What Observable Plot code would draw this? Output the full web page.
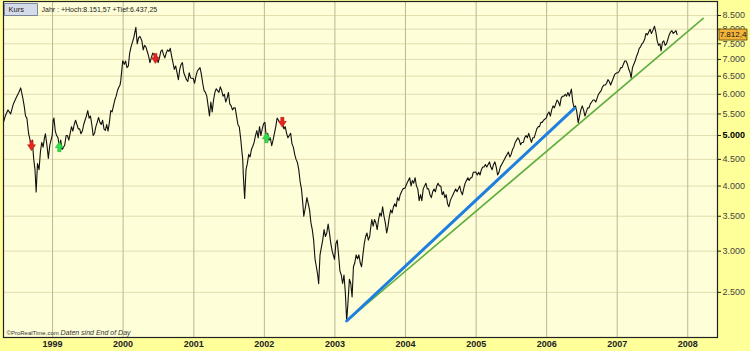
<!DOCTYPE html>
<html><head><meta charset="utf-8">
<script src="https://cdn.jsdelivr.net/npm/d3@7"></script>
<script src="https://cdn.jsdelivr.net/npm/@observablehq/plot@0.6"></script>
<style>
html,body{margin:0;padding:0;background:#ffff99;}
#chart svg{display:block;}
</style></head><body><div id="chart"></div>
<script>
// ---- data ----
const p1998 = [["1998-04-22",5300],["1998-05-01",5450],["1998-05-15",5600],["1998-05-29",5500],["1998-06-12",5750],["1998-06-26",5900],["1998-07-10",6050],["1998-07-20",6171],["1998-07-31",5900],["1998-08-07",5700],["1998-08-14",5450],["1998-08-21",5400],["1998-08-30",5040],["1998-09-04",4950],["1998-09-11",4800],["1998-09-14",4780],["1998-09-18",4900],["1998-09-25",4520],["1998-10-02",4300],["1998-10-08",3896],["1998-10-15",4420],["1998-10-23",4300],["1998-10-30",4650],["1998-11-06",4850],["1998-11-13",4750],["1998-11-20",4950],["1998-11-25",5040],["1998-12-04",4750],["1998-12-10",4520],["1998-12-18",4800],["1998-12-30",5002]];
const p1999 = [["1999-01-04",5350],["1999-01-08",5400],["1999-01-15",5100],["1999-01-22",5000],["1999-01-29",4950],["1999-02-05",4760],["1999-02-12",4900],["1999-02-19",4700],["1999-02-26",4740],["1999-03-05",4800],["1999-03-12",5000],["1999-03-19",5000],["1999-03-26",4900],["1999-04-02",5050],["1999-04-09",5200],["1999-04-16",5100],["1999-04-23",5250],["1999-04-30",5350],["1999-05-07",5250],["1999-05-14",5150],["1999-05-21",5150],["1999-05-28",5040],["1999-06-04",5100],["1999-06-11",5250],["1999-06-18",5350],["1999-06-25",5450],["1999-07-02",5585],["1999-07-09",5400],["1999-07-16",5450],["1999-07-23",5250],["1999-07-30",5000],["1999-08-06",5050],["1999-08-13",5200],["1999-08-20",5300],["1999-08-27",5416],["1999-09-03",5300],["1999-09-10",5250],["1999-09-17",5350],["1999-09-24",5150],["1999-10-01",5113],["1999-10-08",5250],["1999-10-15",5100],["1999-10-22",5300],["1999-10-29",5585],["1999-11-05",5550],["1999-11-12",5700],["1999-11-19",5850],["1999-11-26",5950],["1999-12-03",6100],["1999-12-09",6184],["1999-12-16",6250],["1999-12-20",6380],["1999-12-30",6958]];
const p2000 = [["2000-01-07",6850],["2000-01-14",6950],["2000-01-21",6750],["2000-01-28",6800],["2000-02-04",7200],["2000-02-11",7400],["2000-02-18",7550],["2000-02-25",7700],["2000-03-07",8064],["2000-03-14",7500],["2000-03-21",7700],["2000-03-28",7750],["2000-04-07",7600],["2000-04-14",7300],["2000-04-21",7450],["2000-04-28",7400],["2000-05-05",7250],["2000-05-12",7100],["2000-05-19",6900],["2000-05-26",7050],["2000-06-02",7200],["2000-06-09",7150],["2000-06-16",7030],["2000-06-23",7100],["2000-06-30",6900],["2000-07-07",7050],["2000-07-14",7250],["2000-07-21",7300],["2000-07-28",7150],["2000-08-04",7050],["2000-08-11",7200],["2000-08-18",7300],["2000-08-25",7250],["2000-09-01",7350],["2000-09-08",7100],["2000-09-15",6900],["2000-09-22",6700],["2000-09-29",6800],["2000-10-06",6600],["2000-10-13",6400],["2000-10-20",6700],["2000-10-27",6850],["2000-11-03",6900],["2000-11-10",6600],["2000-11-17",6500],["2000-11-24",6400],["2000-12-01",6350],["2000-12-08",6600],["2000-12-15",6450],["2000-12-29",6434]];
const p2001 = [["2001-01-05",6300],["2001-01-12",6500],["2001-01-19",6650],["2001-01-26",6700],["2001-02-02",6750],["2001-02-09",6550],["2001-02-16",6300],["2001-02-23",6100],["2001-03-02",6050],["2001-03-09",5950],["2001-03-16",5700],["2001-03-23",5450],["2001-03-30",5800],["2001-04-06",5550],["2001-04-13",5850],["2001-04-20",6050],["2001-04-27",6150],["2001-05-04",6100],["2001-05-11",6050],["2001-05-18",6200],["2001-05-25",6100],["2001-06-01",5950],["2001-06-08",6000],["2001-06-15",5800],["2001-06-22",5900],["2001-06-29",6050],["2001-07-06",5750],["2001-07-13",5700],["2001-07-20",5600],["2001-07-27",5650],["2001-08-03",5650],["2001-08-10",5450],["2001-08-17",5250],["2001-08-24",5200],["2001-08-31",4950],["2001-09-07",4650],["2001-09-11",4500],["2001-09-14",4200],["2001-09-21",3787],["2001-09-28",4300],["2001-10-05",4420],["2001-10-12",4600],["2001-10-19",4550],["2001-10-26",4700],["2001-11-02",4770],["2001-11-09",4850],["2001-11-16",5000],["2001-11-23",5110],["2001-11-30",4950],["2001-12-07",5200],["2001-12-14",5000],["2001-12-21",5150],["2001-12-28",5270]];
const p2002 = [["2002-01-04",5300],["2002-01-11",4950],["2002-01-18",5050],["2002-01-25",4900],["2002-02-01",4950],["2002-02-08",4780],["2002-02-15",4900],["2002-02-22",5050],["2002-03-01",5200],["2002-03-08",5400],["2002-03-15",5350],["2002-03-22",5300],["2002-03-29",5280],["2002-04-04",5300],["2002-04-12",5150],["2002-04-19",5200],["2002-04-26",5050],["2002-05-03",4950],["2002-05-10",5000],["2002-05-17",5050],["2002-05-24",4820],["2002-05-31",4750],["2002-06-07",4600],["2002-06-14",4500],["2002-06-21",4440],["2002-06-28",4300],["2002-07-05",4080],["2002-07-12",3950],["2002-07-19",3700],["2002-07-24",3500],["2002-08-02",3650],["2002-08-09",3800],["2002-08-16",3700],["2002-08-23",3600],["2002-08-30",3400],["2002-09-06",3300],["2002-09-13",3150],["2002-09-20",2900],["2002-09-27",2800],["2002-10-04",2700],["2002-10-09",2598],["2002-10-16",2950],["2002-10-23",3050],["2002-10-30",3150],["2002-11-06",3300],["2002-11-13",3200],["2002-11-20",3250],["2002-11-27",3380],["2002-12-04",3250],["2002-12-11",3100],["2002-12-18",3000],["2002-12-30",2893]];
const p2003 = [["2003-01-06",3100],["2003-01-13",3150],["2003-01-20",2950],["2003-01-27",2750],["2003-02-03",2700],["2003-02-10",2600],["2003-02-17",2700],["2003-02-24",2500],["2003-03-03",2203],["2003-03-10",2400],["2003-03-17",2650],["2003-03-24",2600],["2003-03-31",2450],["2003-04-07",2800],["2003-04-14",2850],["2003-04-21",2950],["2003-04-28",2900],["2003-05-05",2950],["2003-05-12",2850],["2003-05-19",2800],["2003-05-26",2950],["2003-06-02",3100],["2003-06-09",3200],["2003-06-16",3250],["2003-06-23",3150],["2003-06-30",3200],["2003-07-04",3300],["2003-07-11",3450],["2003-07-18",3350],["2003-07-25",3450],["2003-08-01",3400],["2003-08-08",3300],["2003-08-15",3450],["2003-08-22",3550],["2003-08-29",3500],["2003-09-05",3650],["2003-09-12",3500],["2003-09-19",3400],["2003-09-26",3250],["2003-10-03",3350],["2003-10-10",3500],["2003-10-17",3600],["2003-10-24",3550],["2003-10-31",3650],["2003-11-07",3700],["2003-11-14",3650],["2003-11-21",3800],["2003-11-28",3750],["2003-12-05",3850],["2003-12-12",3900],["2003-12-19",3950],["2003-12-30",3965]];
const p2004 = [["2004-01-09",4050],["2004-01-16",4100],["2004-01-23",4150],["2004-01-30",4000],["2004-02-06",4100],["2004-02-13",4050],["2004-02-20",4150],["2004-02-27",4000],["2004-03-05",3950],["2004-03-12",3750],["2004-03-19",3850],["2004-03-26",3750],["2004-04-02",3950],["2004-04-09",4000],["2004-04-16",4050],["2004-04-23",3950],["2004-04-30",3950],["2004-05-07",3850],["2004-05-14",3800],["2004-05-21",3900],["2004-05-28",3950],["2004-06-04",3900],["2004-06-11",4000],["2004-06-18",4050],["2004-06-25",4000],["2004-07-02",4000],["2004-07-09",3850],["2004-07-16",3900],["2004-07-23",3800],["2004-07-30",3850],["2004-08-06",3700],["2004-08-13",3650],["2004-08-20",3750],["2004-08-27",3800],["2004-09-03",3850],["2004-09-10",3900],["2004-09-17",3950],["2004-09-24",3900],["2004-10-01",3950],["2004-10-08",4000],["2004-10-15",3900],["2004-10-22",3850],["2004-10-29",3960],["2004-11-05",4050],["2004-11-12",4100],["2004-11-19",4150],["2004-11-26",4100],["2004-12-03",4150],["2004-12-10",4150],["2004-12-17",4250],["2004-12-30",4256]];
const p2005 = [["2005-01-07",4200],["2005-01-14",4250],["2005-01-21",4200],["2005-01-28",4300],["2005-02-04",4350],["2005-02-11",4350],["2005-02-18",4400],["2005-02-25",4350],["2005-03-04",4400],["2005-03-11",4450],["2005-03-18",4350],["2005-03-25",4300],["2005-04-01",4400],["2005-04-08",4450],["2005-04-15",4350],["2005-04-22",4200],["2005-04-29",4250],["2005-05-06",4350],["2005-05-13",4400],["2005-05-20",4450],["2005-05-27",4500],["2005-06-03",4550],["2005-06-10",4600],["2005-06-17",4650],["2005-06-24",4550],["2005-07-01",4600],["2005-07-08",4700],["2005-07-15",4750],["2005-07-22",4850],["2005-07-29",4900],["2005-08-05",4950],["2005-08-12",4900],["2005-08-19",4800],["2005-08-26",4850],["2005-09-02",4850],["2005-09-09",4950],["2005-09-16",5000],["2005-09-23",4950],["2005-09-30",5050],["2005-10-07",4950],["2005-10-14",4850],["2005-10-21",4950],["2005-10-28",4950],["2005-11-04",5050],["2005-11-11",5150],["2005-11-18",5200],["2005-11-25",5200],["2005-12-02",5300],["2005-12-09",5300],["2005-12-16",5350],["2005-12-30",5408]];
const p2006 = [["2006-01-06",5500],["2006-01-13",5550],["2006-01-20",5450],["2006-01-27",5600],["2006-02-03",5700],["2006-02-10",5650],["2006-02-17",5750],["2006-02-24",5850],["2006-03-03",5800],["2006-03-10",5700],["2006-03-17",5900],["2006-03-24",5950],["2006-03-31",5950],["2006-04-07",6000],["2006-04-14",5950],["2006-04-21",6050],["2006-04-28",5950],["2006-05-09",6140],["2006-05-16",5800],["2006-05-23",5650],["2006-05-30",5700],["2006-06-06",5550],["2006-06-13",5290],["2006-06-20",5450],["2006-06-27",5600],["2006-07-04",5700],["2006-07-11",5600],["2006-07-18",5450],["2006-07-25",5550],["2006-08-01",5650],["2006-08-08",5650],["2006-08-15",5750],["2006-08-22",5800],["2006-08-29",5850],["2006-09-05",5850],["2006-09-12",5800],["2006-09-19",5900],["2006-09-26",6000],["2006-10-03",6050],["2006-10-10",6100],["2006-10-17",6200],["2006-10-24",6250],["2006-10-31",6250],["2006-11-07",6300],["2006-11-14",6400],["2006-11-21",6350],["2006-11-28",6250],["2006-12-05",6350],["2006-12-12",6450],["2006-12-19",6550],["2006-12-29",6597]];
const p2007 = [["2007-01-05",6600],["2007-01-12",6650],["2007-01-19",6750],["2007-01-26",6750],["2007-02-02",6850],["2007-02-09",6950],["2007-02-16",6950],["2007-02-23",6850],["2007-03-02",6700],["2007-03-09",6600],["2007-03-14",6450],["2007-03-21",6750],["2007-03-28",6850],["2007-04-04",6950],["2007-04-11",7100],["2007-04-18",7200],["2007-04-25",7350],["2007-05-02",7400],["2007-05-09",7500],["2007-05-16",7550],["2007-05-23",7650],["2007-05-30",7850],["2007-06-06",7800],["2007-06-13",7900],["2007-06-20",8000],["2007-06-27",7850],["2007-07-04",7950],["2007-07-13",8105],["2007-07-20",7900],["2007-07-27",7600],["2007-08-03",7450],["2007-08-10",7500],["2007-08-16",7270],["2007-08-23",7550],["2007-08-30",7600],["2007-09-06",7450],["2007-09-13",7500],["2007-09-20",7650],["2007-09-27",7800],["2007-10-04",7900],["2007-10-11",7950],["2007-10-18",7850],["2007-10-25",7900],["2007-11-01",7950],["2007-11-07",7812.4]];

const sellSignals = [["1998-09-14",4780],["2000-06-16",7030],["2002-04-04",5300]];
const buySignals  = [["1999-02-05",4760],["2002-01-12",4950]];
const blueTrend  = [["2003-03-03",2203],["2006-05-24",5640]];
const greenTrend = [["2003-03-03",2203],["2008-03-21",8390]];

const yTicks = [2500,3000,3500,4000,4500,5000,5500,6000,6500,7000,7500,8000,8500];
const yTickBold = [5000];
const xTickYears = ["1999","2000","2001","2002","2003","2004","2005","2006","2007","2008"];
const lastValue = 7812.4;
const lastValueLabel = "7.812,4";
const panelLabel = "Kurs";
const headerText = "Jahr : +Hoch:8.151,57 +Tief:6.437,25";
const captionA = "©ProRealTime.com";
const captionB = "Daten sind End of Day";

// ---- build ----
const toRows = arr => arr.map(([d, v]) => ({date: new Date(d), value: v}));
const prices = toRows([].concat(p1998,p1999,p2000,p2001,p2002,p2003,p2004,p2005,p2006,p2007));
const sells = toRows(sellSignals), buys = toRows(buySignals);
const blue = toRows(blueTrend), green = toRows(greenTrend);
const yearDates = xTickYears.map(y => new Date(y + "-01-01"));
const fmt = v => d3.format(",")(v).replace(/,/g, ".");

const arrowDown = {draw(c){c.moveTo(-1.6,-5);c.lineTo(1.6,-5);c.lineTo(1.6,-1);c.lineTo(4,-1);c.lineTo(0,5);c.lineTo(-4,-1);c.lineTo(-1.6,-1);c.closePath();}};
const arrowUp = {draw(c){c.moveTo(-1.6,5);c.lineTo(1.6,5);c.lineTo(1.6,1);c.lineTo(4,1);c.lineTo(0,-5);c.lineTo(-4,1);c.lineTo(-1.6,1);c.closePath();}};
const rectSym = (w,h) => ({draw(c){c.rect(-w/2,-h/2,w,h);}});

const chart = Plot.plot({
  width: 750, height: 351,
  marginLeft: 3, marginRight: 33, marginTop: 1, marginBottom: 14,
  style: {background: "#ffff99", fontFamily: "'Liberation Sans', Arial, sans-serif", overflow: "visible"},
  x: {type: "utc", domain: [new Date("1998-04-22"), new Date("2008-06-03")], label: null},
  y: {type: "log", domain: [2048, 9042], label: null},
  marks: [
    Plot.frame({fill: "#fefed8", stroke: null}),
    Plot.gridY(yTicks, {stroke: "#e3ddb0", strokeOpacity: 1}),
    Plot.gridX(yearDates, {stroke: "#bdb794", strokeOpacity: 1}),
    Plot.line(prices, {x: "date", y: "value", stroke: "#111", strokeWidth: 1.1}),
    Plot.line(green, {x: "date", y: "value", stroke: "#5fae3e", strokeWidth: 1.6}),
    Plot.line(blue, {x: "date", y: "value", stroke: "#1f7fe0", strokeWidth: 3}),
    Plot.dot(sells, {x: "date", y: "value", symbol: arrowDown, fill: "#e3261c", stroke: "#b01010", strokeWidth: 0.5}),
    Plot.dot(buys, {x: "date", y: "value", symbol: arrowUp, fill: "#2fe04c", stroke: "#1aa030", strokeWidth: 0.5}),
    Plot.axisY(yTicks.filter(t => !yTickBold.includes(t)), {anchor: "right", label: null, tickSize: 3, tickPadding: 2, tickFormat: fmt, fontSize: 9, fill: "#444", stroke: "#222"}),
    Plot.axisY(yTickBold, {anchor: "right", label: null, tickSize: 3, tickPadding: 2, tickFormat: fmt, fontSize: 9, fontWeight: "bold", fill: "#000", stroke: "#222"}),
    Plot.axisX(yearDates, {label: null, tickSize: 0, tickPadding: 3, tickFormat: d3.utcFormat("%Y"), fontSize: 9, fontWeight: "bold", fill: "#222"}),
    Plot.frame({stroke: "#222", strokeWidth: 1.2}),
    Plot.dot([lastValue], {y: d => d, frameAnchor: "right", dx: 15.5, symbol: rectSym(28, 11), fill: "#f3b43a", stroke: "#5a4000", strokeWidth: 0.8}),
    Plot.text([lastValueLabel], {y: [lastValue], text: d => d, frameAnchor: "right", textAnchor: "middle", dx: 15.5, fontSize: 8, fill: "#111"}),
    Plot.dot([panelLabel], {frameAnchor: "top-left", dx: 17.5, dy: 8, symbol: rectSym(33, 12), fill: "#d5dbe8", stroke: "#60708e", strokeWidth: 0.8}),
    Plot.text([panelLabel], {frameAnchor: "top-left", dx: 5, dy: 8, text: d => d, textAnchor: "start", lineAnchor: "middle", fontSize: 7.5, fill: "#222"}),
    Plot.text([headerText], {frameAnchor: "top-left", dx: 38, dy: 8, text: d => d, textAnchor: "start", lineAnchor: "middle", fontSize: 7, fill: "#222"}),
    Plot.text([captionA], {frameAnchor: "bottom-left", dx: 3, dy: -3, text: d => d, textAnchor: "start", lineAnchor: "bottom", fontSize: 6, fill: "#333"}),
    Plot.text([captionB], {frameAnchor: "bottom-left", dx: 57, dy: -3, text: d => d, textAnchor: "start", lineAnchor: "bottom", fontSize: 7, fontStyle: "italic", fill: "#333"})
  ]
});
document.getElementById("chart").appendChild(chart);
</script>
</body></html>
